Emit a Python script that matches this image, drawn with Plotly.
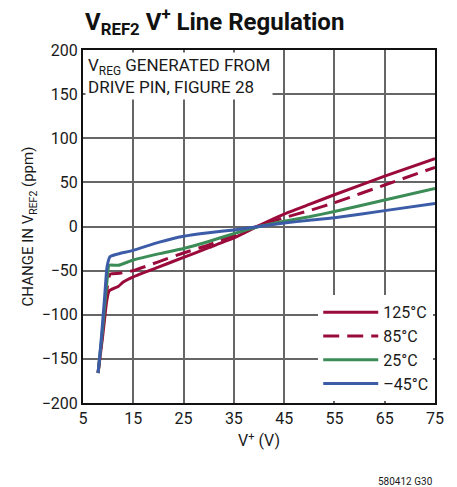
import plotly.graph_objects as go

x_125 = [8, 9, 9.7, 10.2, 12, 13, 15, 20, 25, 30, 35, 40, 45, 50, 55, 65, 75]
y_125 = [-166, -120, -85, -73, -68, -63, -57, -46, -35, -24, -13, 1, 14, 25, 36, 57, 77]

x_85 = [8, 9, 9.8, 10.4, 12.3, 15, 20, 25, 30, 35, 40, 45, 50, 55, 65, 75]
y_85 = [-166, -115, -70, -54, -53, -50, -40, -30, -21, -10, 1, 10, 18, 27, 47, 67]

x_25 = [8, 9, 9.8, 10.2, 12, 15, 20, 25, 30, 35, 40, 45, 50, 55, 65, 75]
y_25 = [-166, -110, -60, -44, -44, -38, -31, -25, -17, -8, 0, 6, 11, 17, 30, 43]

x_m45 = [8, 8.6, 9.3, 9.8, 10.4, 12, 15, 20, 25, 30, 35, 40, 45, 50, 55, 65, 75]
y_m45 = [-166, -130, -80, -45, -34, -31, -27, -18, -11, -7, -4, 0, 4, 7, 10, 18, 26]

x_ticks = [5, 15, 25, 35, 45, 55, 65, 75]
y_ticks = [-200, -150, -100, -50, 0, 50, 100, 150, 200]

RED = "#9a0b3b"
GREEN = "#3c8c57"
BLUE = "#3c5ca8"
FONT = "Roboto, Liberation Sans, sans-serif"

fig = go.Figure()
fig.add_trace(go.Scatter(x=x_125, y=y_125, mode="lines", name="125°C",
                         line=dict(color=RED, width=3, shape="spline", smoothing=0.5)))
fig.add_trace(go.Scatter(x=x_85, y=y_85, mode="lines", name="85°C",
                         line=dict(color=RED, width=3, dash="16px,8px", shape="spline", smoothing=0.5)))
fig.add_trace(go.Scatter(x=x_25, y=y_25, mode="lines", name="25°C",
                         line=dict(color=GREEN, width=3, shape="spline", smoothing=0.5)))
fig.add_trace(go.Scatter(x=x_m45, y=y_m45, mode="lines", name="–45°C",
                         line=dict(color=BLUE, width=3, shape="spline", smoothing=0.5)))

fig.update_layout(
    width=457, height=487,
    margin=dict(l=83, r=22, t=50, b=84, autoexpand=False),
    paper_bgcolor="white", plot_bgcolor="white",
    font=dict(family=FONT, size=16, color="#1a1a1a"),
    title=dict(text="<b>V<sub>REF2</sub> V<sup>+</sup> Line Regulation</b>",
               x=85 / 457, xref="container", xanchor="left", y=0.972, yanchor="top",
               font=dict(family=FONT, size=24, color="#111")),
    xaxis=dict(range=[5, 75], tickvals=x_ticks, showgrid=True, gridcolor="#666",
               gridwidth=1.5, showline=True, linecolor="#111", linewidth=2, mirror=True,
               zeroline=False, ticks="", tickfont=dict(size=16),
               title=dict(text="V<sup>+</sup> (V)", font=dict(size=16), standoff=8)),
    yaxis=dict(range=[-200, 200], tickvals=y_ticks, showgrid=True, gridcolor="#666",
               gridwidth=1.5, showline=True, linecolor="#111", linewidth=2, mirror=True,
               zeroline=False, ticks="", tickfont=dict(size=16), ticksuffix=" ",
               title=dict(text="CHANGE IN V<sub>REF2</sub> (ppm)", font=dict(size=15), standoff=4)),
    legend=dict(x=0.995, y=0.005, xanchor="right", yanchor="bottom",
                bgcolor="white", borderwidth=0, font=dict(size=16),
                itemwidth=55, tracegroupgap=0),
    showlegend=True,
)

fig.add_annotation(
    text="V<sub>REG</sub> GENERATED FROM<br>DRIVE PIN, FIGURE 28",
    xref="paper", yref="paper", x=0.005, y=0.995, xanchor="left", yanchor="top",
    showarrow=False, align="left", bgcolor="white", borderpad=2,
    font=dict(size=17, color="#1a1a1a"),
)
fig.add_annotation(
    text="580412 G30", xref="paper", yref="paper", x=1.0, y=-0.2,
    xanchor="right", yanchor="top", showarrow=False,
    font=dict(size=10, color="#1a1a1a"),
)

fig.write_html("out.html", config={"displayModeBar": False},
               post_script="document.body.style.margin='0';document.body.style.padding='0';")
